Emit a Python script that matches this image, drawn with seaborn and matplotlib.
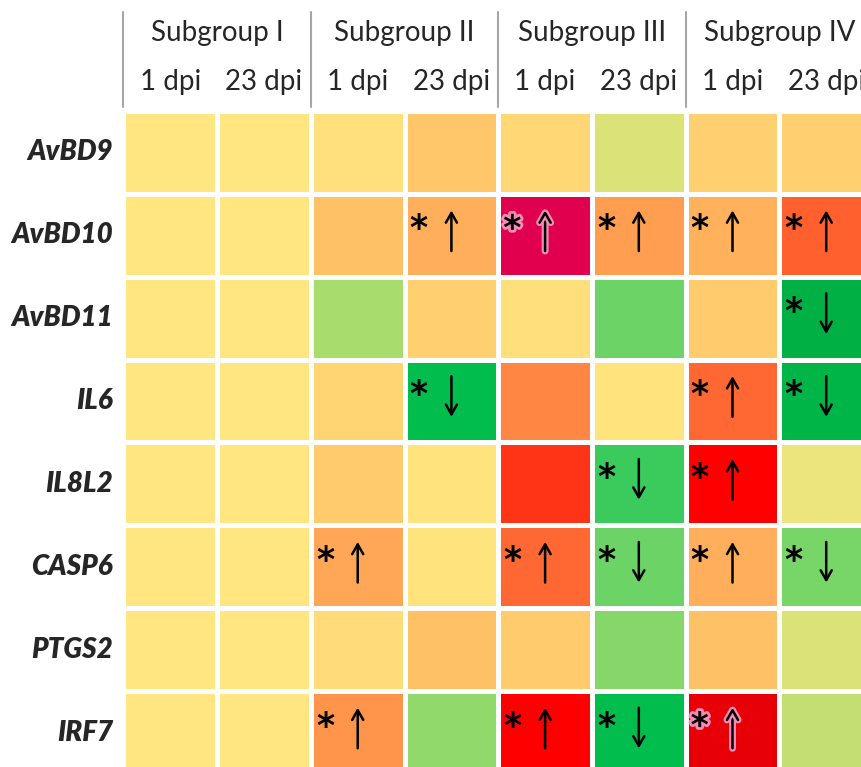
import matplotlib
matplotlib.use("Agg")
import matplotlib.pyplot as plt
import matplotlib.patheffects as pe
from matplotlib.colors import LinearSegmentedColormap
import numpy as np
import pandas as pd
import seaborn as sns

# genes (rows) and sample columns
genes = ["AvBD9", "AvBD10", "AvBD11", "IL6", "IL8L2", "CASP6", "PTGS2", "IRF7"]
subgroups = ["Subgroup I", "Subgroup II", "Subgroup III", "Subgroup IV"]
days = ["1 dpi", "23 dpi"]

# relative expression score (-1 = strongly down, +1 = strongly up)
AvBD9 = [0, 0, 0.05, 0.25, 0.12, -0.15, 0.18, 0.18]
AvBD10 = [0, 0, 0.28, 0.35, 1.0, 0.42, 0.34, 0.62]
AvBD11 = [0, 0, -0.35, 0.18, 0.06, -0.6, 0.22, -1.0]
IL6 = [0, 0, 0.15, -0.93, 0.5, 0.02, 0.6, -0.97]
IL8L2 = [0, 0, 0.22, 0.02, 0.75, -0.75, 0.85, -0.08]
CASP6 = [0, 0, 0.38, 0.02, 0.6, -0.6, 0.35, -0.55]
PTGS2 = [0, 0, 0.08, 0.28, 0.22, -0.5, 0.28, -0.15]
IRF7 = [0, 0, 0.45, -0.45, 0.85, -0.93, 0.93, -0.25]

# significant changes: "u" = up, "d" = down, "" = none
sig_AvBD9 = ["", "", "", "", "", "", "", ""]
sig_AvBD10 = ["", "", "", "u", "u", "u", "u", "u"]
sig_AvBD11 = ["", "", "", "", "", "", "", "d"]
sig_IL6 = ["", "", "", "d", "", "", "u", "d"]
sig_IL8L2 = ["", "", "", "", "", "d", "u", ""]
sig_CASP6 = ["", "", "u", "", "u", "d", "u", "d"]
sig_PTGS2 = ["", "", "", "", "", "", "", ""]
sig_IRF7 = ["", "", "u", "", "u", "d", "u", ""]

cols = [f"{s} {d}" for s in subgroups for d in days]
values = pd.DataFrame([AvBD9, AvBD10, AvBD11, IL6, IL8L2, CASP6, PTGS2, IRF7],
                      index=genes, columns=cols)
sig = [sig_AvBD9, sig_AvBD10, sig_AvBD11, sig_IL6, sig_IL8L2, sig_CASP6, sig_PTGS2, sig_IRF7]

# Excel-like green - yellow - red scale
nodes = [(0.0, "#00B044"), (0.04, "#00C050"), (0.2, "#6CD466"), (0.325, "#A8DC6C"),
         (0.425, "#DCE278"), (0.5, "#FFE680"), (0.625, "#FFC86A"), (0.75, "#FF8844"),
         (0.875, "#FF3818"), (0.925, "#FF0000"), (0.965, "#E80000"), (1.0, "#E0004D")]
cmap = LinearSegmentedColormap.from_list("gyr", nodes)

sns.set_style("white")
plt.rcParams["font.family"] = ["Lato", "DejaVu Sans"]

fig = plt.figure(figsize=(8.61, 7.67), dpi=100)
ax = fig.add_axes([0.1434, -0.0091, 0.8706, 0.8644])
sns.heatmap(values, cmap=cmap, vmin=-1, vmax=1, cbar=False, linewidths=2.2,
            linecolor="white", xticklabels=False, ax=ax)

ax.tick_params(left=False, bottom=False, pad=4)
ax.set_yticklabels(genes, rotation=0, fontsize=20, fontweight="heavy", fontstyle="italic")
ax.set_xlabel("")
ax.set_ylabel("")

# header: subgroup names, day labels and separator lines
for i, s in enumerate(subgroups):
    ax.text(2 * i + 1, -0.94, s, ha="center", va="center", fontsize=20, clip_on=False)
    for j, d in enumerate(days):
        ax.text(2 * i + j + 0.5, -0.35, d, ha="center", va="center", fontsize=20, clip_on=False)
    ax.plot([2 * i, 2 * i], [-1.19, -0.05], color="#A6A6A6", lw=1.5, clip_on=False)

# asterisk + arrow for significant cells
for r in range(len(genes)):
    for c in range(len(cols)):
        s = sig[r][c]
        if not s:
            continue
        glow = values.iloc[r, c] >= 0.9
        t = ax.text(c + 0.15, r + 0.43, "*", ha="center", va="center", fontsize=25,
                    fontweight="bold", family="DejaVu Sans", color="black", clip_on=False)
        if glow:
            t.set_path_effects([pe.withStroke(linewidth=4, foreground="#F58CB4")])
        if s == "u":
            tail, head = r + 0.69, r + 0.2
        else:
            tail, head = r + 0.2, r + 0.69
        a = ax.annotate("", xy=(c + 0.5, head), xytext=(c + 0.5, tail),
                        arrowprops=dict(arrowstyle="->,head_length=0.7,head_width=0.4",
                                        lw=1.8, color="black", shrinkA=0, shrinkB=0))
        if glow:
            a.arrow_patch.set_path_effects([pe.withStroke(linewidth=5, foreground="#F58CB4")])

fig.savefig("out.png", dpi=100)
